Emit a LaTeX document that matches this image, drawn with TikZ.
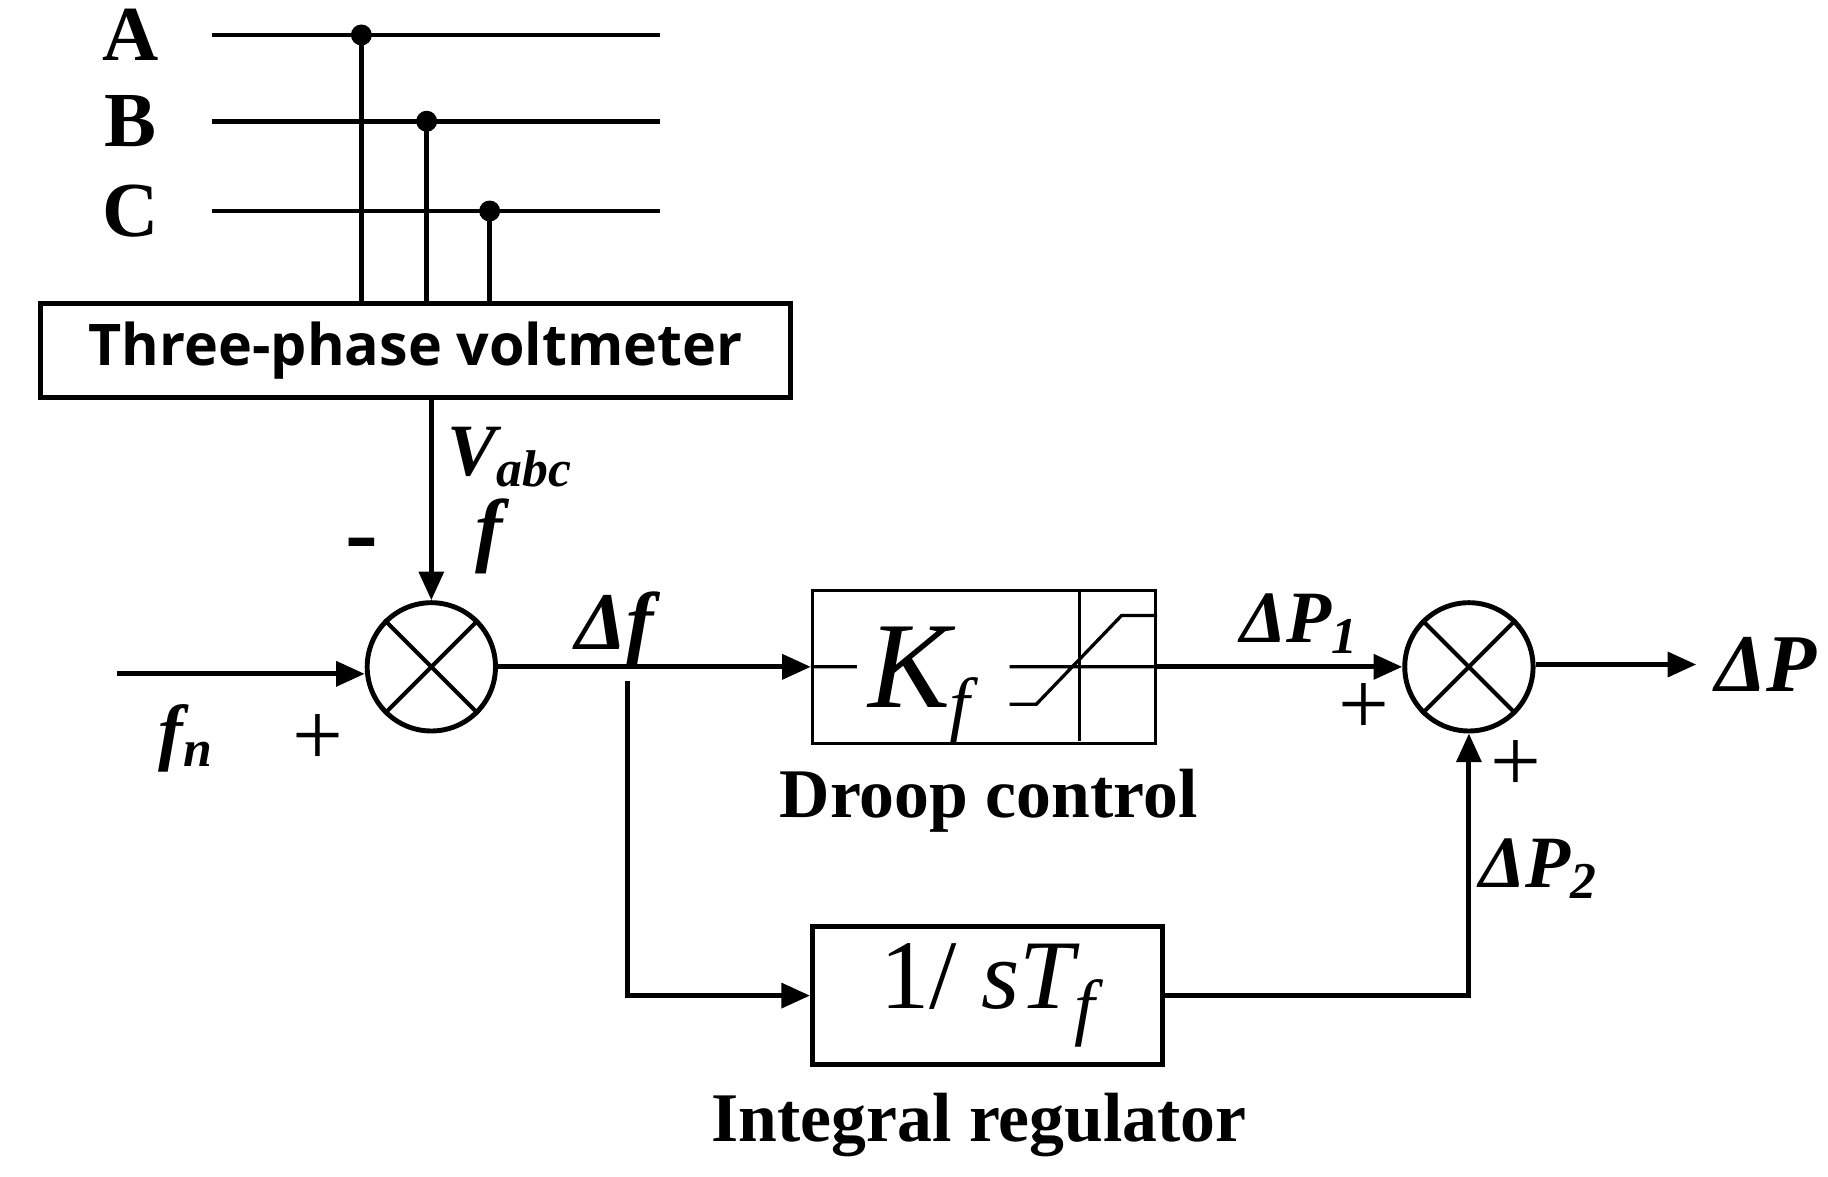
\documentclass[tikz,border=0pt]{standalone}
\usepackage{fontspec}
\setmainfont{Liberation Serif}
\newfontfamily\boxfont{Open Sans}
\usetikzlibrary{arrows.meta}
\begin{document}
\begin{tikzpicture}[x=0.01cm,y=-0.01cm,line width=1.2pt,
    lab/.style={font=\fontsize{17}{20}\selectfont\bfseries},
    sgn/.style={font=\fontsize{22}{24}\selectfont},
    blk/.style={draw,inner sep=0pt},
    summ/.style={draw,circle,minimum size=1.1cm,inner sep=0pt},
    arr/.style={-{Triangle[length=7pt,width=6pt]}}]
    \useasboundingbox (0,0) rectangle (1568,1009);
    % three phase lines
    \foreach \n/\y in {A/30,B/104,C/181}{
        \coordinate (\n1) at (182,\y);
        \coordinate (\n2) at (566,\y);
        \draw (\n1) -- (\n2);
        \node[lab,font=\fontsize{19}{22}\selectfont\bfseries] (l\n) at (112,\y) {\n};
    }
    \node[blk,minimum width=6.43cm,minimum height=0.81cm,font=\boxfont\fontsize{14}{16}\selectfont\bfseries] (vm) at (356.5,300.5) {Three-phase voltmeter};
    \coordinate (dA) at (310,30);
    \coordinate (dB) at (366,104);
    \coordinate (dC) at (420,181);
    \foreach \n in {A,B,C}{
        \fill (d\n) circle (9);
        \draw (d\n) -- (d\n |- vm.north);
    }
    % summing junctions
    \node[summ] (s1) at (370,572) {};
    \node[summ] (s2) at (1260,572) {};
    \foreach \s in {s1,s2}{
        \draw[line width=1pt] (\s.45) -- (\s.225) (\s.135) -- (\s.315);
    }
    \draw[arr] (vm.south -| s1) -- (s1.north);
    \node[lab,font=\fontsize{18}{20}\selectfont\bfseries\itshape] (vabc) at (438,392) {V\textsubscript{abc}};
    \node[lab,font=\fontsize{20}{20}\selectfont\bfseries\itshape] (ff) at (420,460) {f};
    \node[sgn,font=\fontsize{24}{24}\selectfont\bfseries] (m1) at (310,473) {-};
    \coordinate (in) at (100,578);
    \draw[arr] (in) -- (in -| s1.west);
    \node[lab,font=\fontsize{18}{20}\selectfont\bfseries\itshape] (fn) at (160,633) {f\textsubscript{n}};
    \node[sgn] (p1) at (273,635) {+};
    % droop block
    \node[blk,line width=0.8pt,minimum width=2.94cm,minimum height=1.31cm] (dr) at (844,572) {};
    \draw[line width=0.8pt] (926,505) -- (926,636);
    \node[font=\fontsize{30}{30}\selectfont\itshape] (kf) at (780,572) {K};
    \node[font=\fontsize{18}{18}\selectfont\itshape] (kfs) at (823,610) {f};
    \draw[line width=0.8pt] (dr.west) -- (735,572) (866,572) -- (dr.east)
        (866,604) -- (889,604) -- (962,528) -- (dr.east |- 0,528);
    \draw[arr] (s1.east) -- (dr.west);
    \node[lab,font=\fontsize{20}{20}\selectfont\bfseries\itshape] (df) at (527,540) {Δf};
    \node[lab] (drl) at (848,687) {Droop control};
    % integral block
    \node[blk,minimum width=3.0cm,minimum height=1.18cm,font=\fontsize{24}{24}\selectfont] (ir) at (847,854) {1/ \textit{sT\raisebox{-0.5ex}{\fontsize{18}{18}\selectfont f}}};
    \node[lab] (irl) at (840,965) {Integral regulator};
    \coordinate (br) at (538,584);
    \draw[arr] (br) |- (ir.west);
    \draw[arr] (dr.east) -- (s2.west);
    \draw[arr] (ir.east) -| (s2.south);
    \node[lab,font=\fontsize{18}{20}\selectfont\bfseries\itshape] (dp1) at (1115,535) {ΔP\textsubscript{1}};
    \node[lab,font=\fontsize{18}{20}\selectfont\bfseries\itshape] (dp2) at (1320,745) {ΔP\textsubscript{2}};
    \node[sgn] (p2) at (1170,608) {+};
    \node[sgn] (p3) at (1300,657) {+};
    \coordinate (out) at (1455,570);
    \draw[arr] (s2.east |- out) -- (out);
    \node[lab,font=\fontsize{20}{20}\selectfont\bfseries\itshape] (dp) at (1515,570) {ΔP};
\end{tikzpicture}
\end{document}
